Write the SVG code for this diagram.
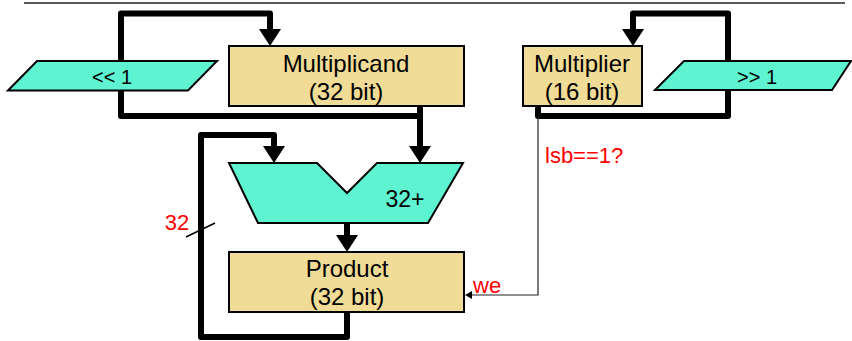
<svg xmlns="http://www.w3.org/2000/svg" width="852" height="341" viewBox="0 0 852 341">
<style>
.box{fill:#F0DC96;stroke:#000;stroke-width:2}
.shift{fill:#5EF4D2;stroke:#000;stroke-width:2}
.t{font-family:"Liberation Sans",Arial,sans-serif;fill:#000;text-anchor:middle}
.big{font-size:24px}
.sm{font-size:20px}
.red{font-family:"Liberation Sans",Arial,sans-serif;fill:#FF0000;font-size:22px}
.thick{fill:none;stroke:#000;stroke-width:6;stroke-linejoin:round}
.thin{fill:none;stroke:#222;stroke-width:1.2}
</style>
<defs>
<marker id="ah" markerUnits="userSpaceOnUse" markerWidth="18" markerHeight="22" refX="0" refY="11" orient="auto" overflow="visible">
<path d="M0,0 L17,11 L0,22 Z" fill="#000"/>
</marker>
<marker id="as" markerUnits="userSpaceOnUse" markerWidth="8" markerHeight="8" refX="0" refY="4" orient="auto" overflow="visible">
<path d="M0,0 L7,4 L0,8 Z" fill="#000"/>
</marker>
</defs>
<rect width="852" height="341" fill="#fff"/>
<line x1="24" y1="3" x2="845" y2="3" stroke="#222" stroke-width="1.5"/>
<g id="connectors">
<path class="thick" d="M420,116 L121,116 L121,13.5 L270,13.5 L270,29" marker-end="url(#ah)"/>
<path class="thick" d="M420,106 L420,146" marker-end="url(#ah)"/>
<path class="thick" d="M538,106 L538,116 L728,116 L728,13.5 L633,13.5 L633,29" marker-end="url(#ah)"/>
<path class="thick" d="M347,223 L347,235" marker-end="url(#ah)"/>
<path class="thick" d="M347,312 L347,337 L201,337 L201,135 L274,135 L274,146" marker-end="url(#ah)"/>
<path class="thin" d="M538,116 L538,295 L472,295" marker-end="url(#as)"/>
<line x1="186" y1="237" x2="215" y2="223" stroke="#000" stroke-width="1.5"/>
<text class="red" x="177" y="230" text-anchor="middle">32</text>
<text class="red" x="545" y="163">lsb==1?</text>
<text class="red" x="473" y="293">we</text>
</g>
<g id="shl">
<polygon class="shift" points="8,90.5 37,61 217,61 188,90.5"/>
<text class="t sm" x="112" y="84">&lt;&lt; 1</text>
</g>
<g id="shr">
<polygon class="shift" points="655,90 684,61 851,61 832,90"/>
<text class="t sm" x="757" y="84">&gt;&gt; 1</text>
</g>
<g id="multiplicand">
<rect class="box" x="229" y="46" width="235" height="60"/>
<text class="t big" x="346" y="72">Multiplicand</text>
<text class="t big" x="346" y="100">(32 bit)</text>
</g>
<g id="multiplier">
<rect class="box" x="523" y="46" width="119" height="60"/>
<text class="t big" x="582" y="72">Multiplier</text>
<text class="t big" x="582" y="100">(16 bit)</text>
</g>
<g id="adder">
<polygon class="shift" points="229,163 317,163 347,193 377,163 463,163 428,223 258,223"/>
<text class="t" style="font-size:23px" x="405" y="207">32+</text>
</g>
<g id="product">
<rect class="box" x="229" y="252" width="235" height="60"/>
<text class="t big" x="347" y="277">Product</text>
<text class="t big" x="347" y="305">(32 bit)</text>
</g>
</svg>
